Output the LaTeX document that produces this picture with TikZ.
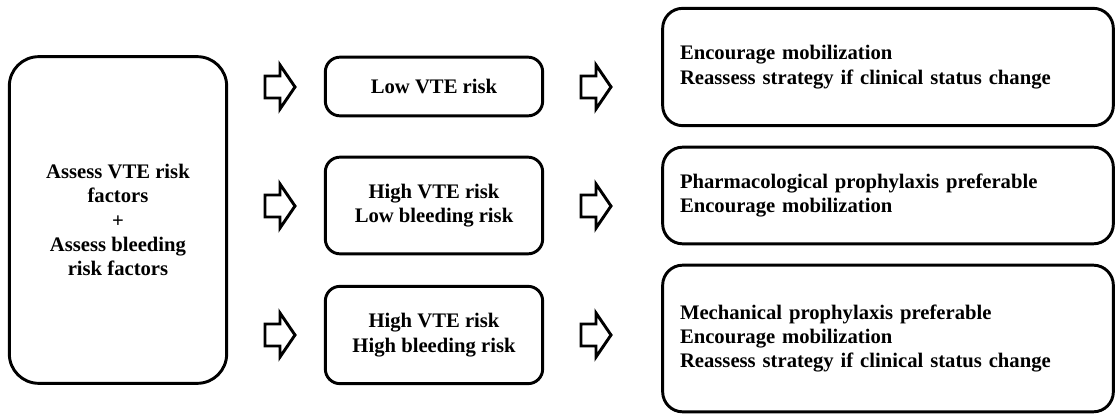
\documentclass[tikz,border=0pt]{standalone}
\usepackage{fontspec}
\setmainfont{Liberation Serif}
\begin{document}
\begin{tikzpicture}[x=0.75pt,y=-0.75pt,
  txt/.style={font=\bfseries\fontsize{15.5}{18.3}\selectfont},
  box/.style={draw,line width=2.2pt,rounded corners=#1,txt,align=center,inner sep=0pt},
  midbox/.style={box=11pt,minimum width=163pt},
  rbox/.style={draw,line width=2.2pt,rounded corners=15pt,txt,align=left,text width=312pt,inner xsep=13pt,inner ysep=0pt},
  blockarrow/.pic={\draw[line width=2.2pt,fill=white] (-15,-11) -- (0,-11) -- (0,-22) -- (15,0) -- (0,22) -- (0,11) -- (-15,11) -- cycle;}
]
\useasboundingbox (0,0) rectangle (1117,414);

\node[box=22pt,minimum width=163pt,minimum height=245pt] (assess) at (118,220)
  {Assess VTE risk\\factors\\+\\Assess bleeding\\risk factors};

\node[midbox,minimum height=44pt] (low) at (434,86.5) {Low VTE risk};
\node[midbox,minimum height=72.5pt] (hl) at (434,205.5) {High VTE risk\\Low bleeding risk};
\node[midbox,minimum height=73pt] (hh) at (434,335) {High VTE risk\\High bleeding risk};

\node[rbox,minimum height=88pt] (r1) at (888,67)
  {Encourage mobilization\\Reassess strategy if clinical status change};
\node[rbox,minimum height=72.5pt] (r2) at (888,195.5)
  {Pharmacological prophylaxis preferable\\Encourage mobilization};
\node[rbox,minimum height=110pt] (r3) at (888,338.5)
  {Mechanical prophylaxis preferable\\Encourage mobilization\\Reassess strategy if clinical status change};

\pic at (280,87) {blockarrow};
\pic at (280,206) {blockarrow};
\pic at (280,335) {blockarrow};
\pic at (596,87) {blockarrow};
\pic at (596,206) {blockarrow};
\pic at (596,335) {blockarrow};
\end{tikzpicture}
\end{document}
